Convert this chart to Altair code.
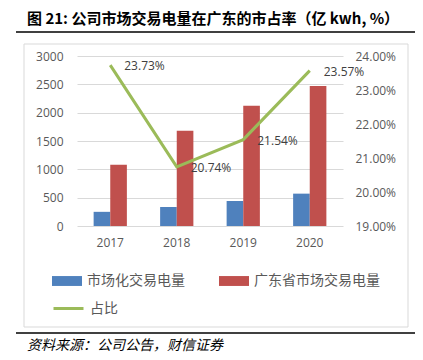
import altair as alt
import pandas as pd

years = ["2017", "2018", "2019", "2020"]
market_volume = [250, 335, 441, 571]
guangdong_volume = [1082, 1682, 2124, 2471]
share = [0.2373, 0.2074, 0.2154, 0.2357]
series_names = ["市场化交易电量", "广东省市场交易电量"]
line_name = "占比"
left_ticks = [0, 500, 1000, 1500, 2000, 2500, 3000]
right_ticks = [0.19, 0.20, 0.21, 0.22, 0.23, 0.24]
title_text = "图 21: 公司市场交易电量在广东的市占率（亿 kwh, %）"
source_text = "资料来源：公司公告，财信证券"

bars_df = pd.DataFrame({
    "year": years * 2,
    "series": [series_names[0]] * 4 + [series_names[1]] * 4,
    "value": market_volume + guangdong_volume,
})
line_df = pd.DataFrame({"year": years, "share": share, "name": [line_name] * 4})
one = pd.DataFrame({"k": [0]})

W, H = 266, 170
L0, T0 = 77, 56  # plot origin on page
PL, PT = L0 - 8, T0 - 8

LABEL_FONT = "Open Sans"
CJK = "Noto Sans CJK SC"
GRAY = "#595959"

x = alt.X("year:N", sort=years,
          scale=alt.Scale(paddingInner=0, paddingOuter=0),
          axis=alt.Axis(title=None, labelAngle=0, domain=False, ticks=False,
                        labelPadding=11, labelFontSize=12, labelColor=GRAY,
                        labelFont=LABEL_FONT, grid=False))

bars = alt.Chart(bars_df).mark_bar().encode(
    x=x,
    xOffset=alt.XOffset("series:N", sort=series_names,
                        scale=alt.Scale(domain=series_names, paddingInner=0, paddingOuter=1)),
    y=alt.Y("value:Q", scale=alt.Scale(domain=[0, 3000], nice=False),
            axis=alt.Axis(values=left_ticks, format="d", title=None, domain=False, ticks=False,
                          labelPadding=14, labelFontSize=12, labelColor=GRAY,
                          labelFont=LABEL_FONT, gridColor="#d9d9d9", gridWidth=1)),
    color=alt.Color("series:N", sort=series_names,
                    scale=alt.Scale(domain=series_names, range=["#4f81bd", "#c0504d"]),
                    legend=alt.Legend(orient="none", legendX=-25, legendY=210,
                                      direction="horizontal", columns=2, title=None,
                                      symbolType="M-1,-0.33H1V0.33H-1Z", symbolSize=900,
                                      symbolStrokeWidth=0, labelFontSize=14, labelFont=CJK,
                                      labelColor=GRAY, labelOffset=5, columnPadding=34,
                                      labelLimit=300)),
)

yshare = alt.Scale(domain=[0.19, 0.24], nice=False, zero=False)

line = alt.Chart(line_df).mark_line(strokeWidth=3).encode(
    x=x,
    y=alt.Y("share:Q", scale=yshare,
            axis=alt.Axis(orient="right", values=right_ticks, format=".2%", title=None,
                          grid=False, domain=False, ticks=False, labelPadding=12,
                          labelFontSize=12, labelColor=GRAY, labelFont=LABEL_FONT)),
    stroke=alt.Stroke("name:N", scale=alt.Scale(domain=[line_name], range=["#9bbb59"]),
                      legend=alt.Legend(orient="none", legendX=-25, legendY=236, title=None,
                                        symbolType="stroke", symbolSize=900,
                                        symbolStrokeWidth=3, labelFontSize=14, labelFont=CJK,
                                        labelColor=GRAY, labelOffset=5)),
)

labels = alt.Chart(line_df).mark_text(align="left", baseline="middle", dx=14, dy=1,
                                      fontSize=12, font=LABEL_FONT, color="#404040").encode(
    x=x,
    y=alt.Y("share:Q", scale=yshare, axis=None),
    text=alt.Text("share:Q", format=".2%"),
)

frame = alt.Chart(one).mark_rect(filled=False, stroke="#d9d9d9", strokeWidth=1).encode(
    x=alt.value(24 - L0), x2=alt.value(408 - L0),
    y=alt.value(44 - T0), y2=alt.value(327 - T0),
)
top_rule = alt.Chart(one).mark_rule(color="#000000", strokeWidth=1.5).encode(
    x=alt.value(16 - L0), x2=alt.value(420 - L0), y=alt.value(32 - T0),
)
bottom_rule = alt.Chart(one).mark_rule(color="#000000", strokeWidth=1.5).encode(
    x=alt.value(16 - L0), x2=alt.value(420 - L0), y=alt.value(333 - T0),
)
title = alt.Chart(one).mark_text(text=title_text, align="left", baseline="middle",
                                 fontSize=15, fontWeight="bold", font=CJK,
                                 color="#000000").encode(
    x=alt.value(27 - L0), y=alt.value(19 - T0),
)
source = alt.Chart(one).mark_text(text=source_text, align="left", baseline="middle",
                                  fontSize=14, fontStyle="italic", font=CJK,
                                  color="#000000").encode(
    x=alt.value(27 - L0), y=alt.value(346 - T0),
)

chart = alt.layer(bars, line, labels, frame, top_rule, bottom_rule, title, source).resolve_scale(
    y="independent"
).properties(
    width=W, height=H, autosize="none",
    padding={"left": PL, "top": PT, "right": 423 - 8 - (L0 + W), "bottom": 360 - (T0 + H)},
).configure_view(stroke=None)

chart.save("out.html", embed_options={"renderer": "svg", "actions": False})
